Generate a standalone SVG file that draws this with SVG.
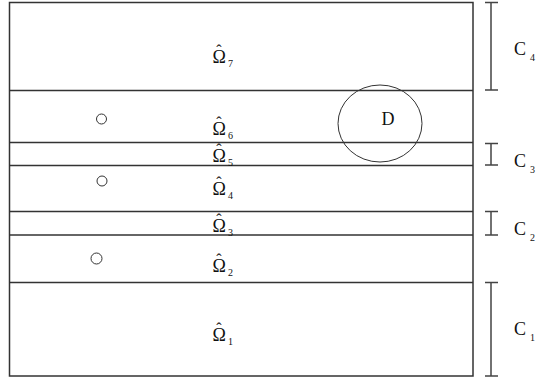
<svg xmlns="http://www.w3.org/2000/svg" width="539" height="381" viewBox="0 0 539 381">
<style>
.ln{stroke:#333;stroke-width:1.5;fill:none}
.br{stroke:#444;stroke-width:1.5;fill:none}
.thin{stroke:#333;stroke-width:1;fill:none}
.t{font-family:"Liberation Serif","Times New Roman",serif;font-size:18px;fill:#111}
.h{font-size:16px}
.s{font-size:10px}
</style>
<rect x="0" y="0" width="539" height="381" fill="#fff"/>
<g id="domain">
<rect class="ln" x="9.5" y="2.5" width="463.5" height="373.5" stroke-width="2"/>
<line class="ln" x1="9.5" y1="90.5" x2="473" y2="90.5"/>
<line class="ln" x1="9.5" y1="142.5" x2="473" y2="142.5"/>
<line class="ln" x1="9.5" y1="165.5" x2="473" y2="165.5"/>
<line class="ln" x1="9.5" y1="211.5" x2="473" y2="211.5"/>
<line class="ln" x1="9.5" y1="235" x2="473" y2="235"/>
<line class="ln" x1="9.5" y1="282.5" x2="473" y2="282.5"/>
</g>
<g id="labels">
<text id="omega7" class="t" x="212.5" y="63">Ω<tspan class="h" dx="-9.6" dy="-7">ˆ</tspan><tspan class="s" dx="6.5" dy="11">7</tspan></text>
<text id="omega6" class="t" x="212.5" y="135">Ω<tspan class="h" dx="-9.6" dy="-7">ˆ</tspan><tspan class="s" dx="6.5" dy="11">6</tspan></text>
<text id="omega5" class="t" x="212.5" y="161.5">Ω<tspan class="h" dx="-9.6" dy="-7">ˆ</tspan><tspan class="s" dx="6.5" dy="11">5</tspan></text>
<text id="omega4" class="t" x="212.5" y="195">Ω<tspan class="h" dx="-9.6" dy="-7">ˆ</tspan><tspan class="s" dx="6.5" dy="11">4</tspan></text>
<text id="omega3" class="t" x="212.5" y="232">Ω<tspan class="h" dx="-9.6" dy="-7">ˆ</tspan><tspan class="s" dx="6.5" dy="11">3</tspan></text>
<text id="omega2" class="t" x="212.5" y="272">Ω<tspan class="h" dx="-9.6" dy="-7">ˆ</tspan><tspan class="s" dx="6.5" dy="11">2</tspan></text>
<text id="omega1" class="t" x="212.5" y="341">Ω<tspan class="h" dx="-9.6" dy="-7">ˆ</tspan><tspan class="s" dx="6.5" dy="11">1</tspan></text>
</g>
<g id="points">
<circle class="thin" cx="101.5" cy="119" r="5"/>
<circle class="thin" cx="102" cy="181" r="5"/>
<circle class="thin" cx="96.5" cy="258.5" r="5.5"/>
</g>
<g id="D">
<ellipse class="thin" cx="380" cy="123.5" rx="42" ry="38.5"/>
<text class="t" x="381.5" y="125">D</text>
</g>
<g id="brackets">
<g id="C4"><path class="br" d="M491 2V90M485 2.5H498M485 90H498"/><text class="t" x="514" y="55">C<tspan class="s" dx="4" dy="6">4</tspan></text></g>
<g id="C3"><path class="br" d="M491 143V165M485 143.5H498M485 165H498"/><text class="t" x="514" y="167">C<tspan class="s" dx="4" dy="6">3</tspan></text></g>
<g id="C2"><path class="br" d="M491 211.5V235M485 211.5H498M485 235H498"/><text class="t" x="514" y="235">C<tspan class="s" dx="4" dy="6">2</tspan></text></g>
<g id="C1"><path class="br" d="M491 282V376M485 282.5H498M485 376H498"/><text class="t" x="514" y="335">C<tspan class="s" dx="4" dy="6">1</tspan></text></g>
</g>
</svg>
